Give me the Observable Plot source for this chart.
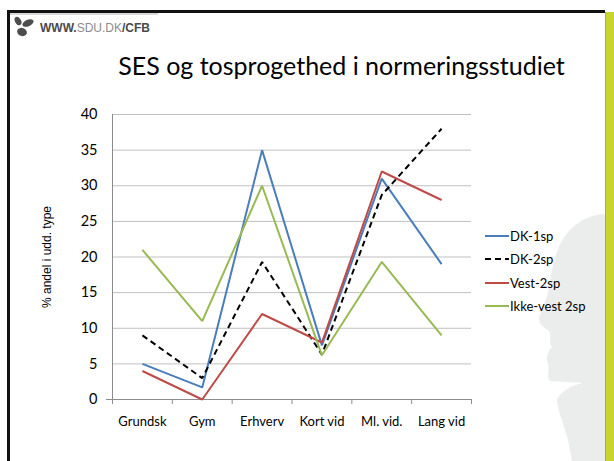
<!DOCTYPE html>
<html><head><meta charset="utf-8">
<script src="https://cdn.jsdelivr.net/npm/d3@7"></script>
<script src="https://cdn.jsdelivr.net/npm/@observablehq/plot@0.6"></script>
<style>
html,body{margin:0;padding:0;background:#fff;}
#slide{position:relative;width:614px;height:461px;overflow:hidden;background:#fff;}
#deco{position:absolute;left:0;top:0;}
#header{position:absolute;left:40px;top:21px;font-family:"Liberation Sans",Arial,sans-serif;font-size:12px;font-weight:bold;color:#4a4a4a;letter-spacing:0px;}
#header .l{color:#8c8c8c;font-weight:normal;}
#title{position:absolute;left:0;width:683px;top:50px;text-align:center;font-family:Lato,sans-serif;font-size:25px;color:#000;white-space:nowrap;}
#ylabel{position:absolute;left:47px;top:257px;transform:translate(-50%,-50%) rotate(-90deg);font-family:"Liberation Sans",Arial,sans-serif;font-size:12px;color:#000;white-space:nowrap;}
#chart{position:absolute;left:0;top:0;}
#legend{position:absolute;left:485px;top:224px;font-family:Lato,sans-serif;font-size:13px;color:#000;}
#legend .row{display:flex;align-items:center;height:23.5px;}
#legend svg{margin-right:1px;}
</style></head><body>
<div id="slide">
<svg id="deco" width="614" height="461">
  <path d="M606,214 C590,214 575,222 565,236 C555,250 552,268 549,288 C547,300 541,310 539,318 C538,324 545,328 549,331 C552,336 548,342 552,347 C548,352 545,358 548,364 C550,370 546,376 550,381 L583,383 C570,386 560,392 557,400 C558,412 564,425 568,440 C570,450 571,456 572,461 L606,461 Z" fill="#ebecec"/>
  <rect x="7" y="10" width="598" height="3" fill="#111"/>
  <rect x="7" y="10" width="3" height="451" fill="#111"/>
  <rect x="10" y="13" width="148" height="2" fill="#d9d9d9"/>
  <rect x="605" y="12" width="9" height="449" fill="#c9d42e"/>
  <rect x="605" y="12" width="1" height="449" fill="#a9b22a"/>
  <g fill="#4d4d4d">
    <ellipse cx="18" cy="21" rx="3" ry="4.5" transform="rotate(-30 18 21)"/>
    <ellipse cx="28" cy="23" rx="6" ry="3.2" transform="rotate(-25 28 23)"/>
    <ellipse cx="22" cy="32" rx="5" ry="4" transform="rotate(20 22 32)"/>
  </g>
</svg>
<div id="header">WWW.<span class="l">SDU.DK</span>/CFB</div>
<div id="title">SES og tosprogethed i normeringsstudiet</div>
<div id="chart"></div>
<div id="ylabel">% andel i udd. type</div>
<div id="legend"></div>
</div>
<script>
const categories = ["Grundsk", "Gym", "Erhverv", "Kort vid", "Ml. vid.", "Lang vid"];
const seriesNames = ["DK-1sp", "DK-2sp", "Vest-2sp", "Ikke-vest 2sp"];
const dk1sp   = [5, 1.7, 35, 7.6, 31, 19];
const dk2sp   = [9, 3, 19.3, 6.3, 28.7, 38];
const vest2sp = [4, 0, 12, 8, 32, 28];
const ikkeVest2sp = [21, 11, 30, 6.2, 19.3, 9];
const yTicks = [0, 5, 10, 15, 20, 25, 30, 35, 40];

const seriesValues = [dk1sp, dk2sp, vest2sp, ikkeVest2sp];
const styles = [
  {stroke: "#4a7ebb", dash: null},
  {stroke: "#000000", dash: "6,4"},
  {stroke: "#be4b48", dash: null},
  {stroke: "#98b954", dash: null}
];

const data = seriesNames.flatMap((s, si) =>
  seriesValues[si].map((v, i) => ({series: s, cat: categories[i], xi: i + 0.5, value: v})));

const bounds = d3.range(0, categories.length + 1);
const centers = categories.map((c, i) => i + 0.5);

const plot = Plot.plot({
  width: 614,
  height: 461,
  marginLeft: 112,
  marginRight: 143,
  marginTop: 114,
  marginBottom: 62,
  style: {background: "transparent", fontFamily: "Lato, sans-serif", fontSize: "14px", color: "#000"},
  x: {type: "linear", domain: [0, categories.length], label: null},
  y: {domain: [0, 40], label: null},
  marks: [
    Plot.gridY(yTicks.slice(1), {stroke: "#c0c0c0", strokeOpacity: 1, strokeWidth: 1}),
    Plot.ruleY([0], {stroke: "#8c8c8c", strokeWidth: 1}),
    Plot.ruleX([0], {stroke: "#8c8c8c", strokeWidth: 1}),
    Plot.axisX(bounds, {tickSize: 5, tickFormat: () => "", stroke: "#8c8c8c", label: null}),
    Plot.axisX(centers, {tickSize: 0, tickPadding: 17, tickFormat: (d) => categories[Math.floor(d)], fontSize: 13, label: null}),
    Plot.axisY(yTicks, {tickSize: 0, tickPadding: 15, fontSize: 14.5, label: null}),
    Plot.axisY([0], {tickSize: 6, tickFormat: () => "", stroke: "#8c8c8c", label: null}),
    ...seriesNames.map((s, si) => Plot.line(data.filter(d => d.series === s), {
      x: "xi", y: "value", stroke: styles[si].stroke, strokeWidth: 2,
      strokeDasharray: styles[si].dash ?? undefined, strokeLinejoin: "miter", strokeLinecap: "butt"
    }))
  ]
});
document.getElementById("chart").appendChild(plot);

const legend = document.getElementById("legend");
seriesNames.forEach((s, si) => {
  const row = document.createElement("div");
  row.className = "row";
  row.innerHTML = `<svg width="24" height="6"><line x1="0" x2="24" y1="3" y2="3" stroke="${styles[si].stroke}" stroke-width="2" ${styles[si].dash ? `stroke-dasharray="${styles[si].dash}"` : ""}/></svg><span>${s}</span>`;
  legend.appendChild(row);
});
</script>
</body></html>
